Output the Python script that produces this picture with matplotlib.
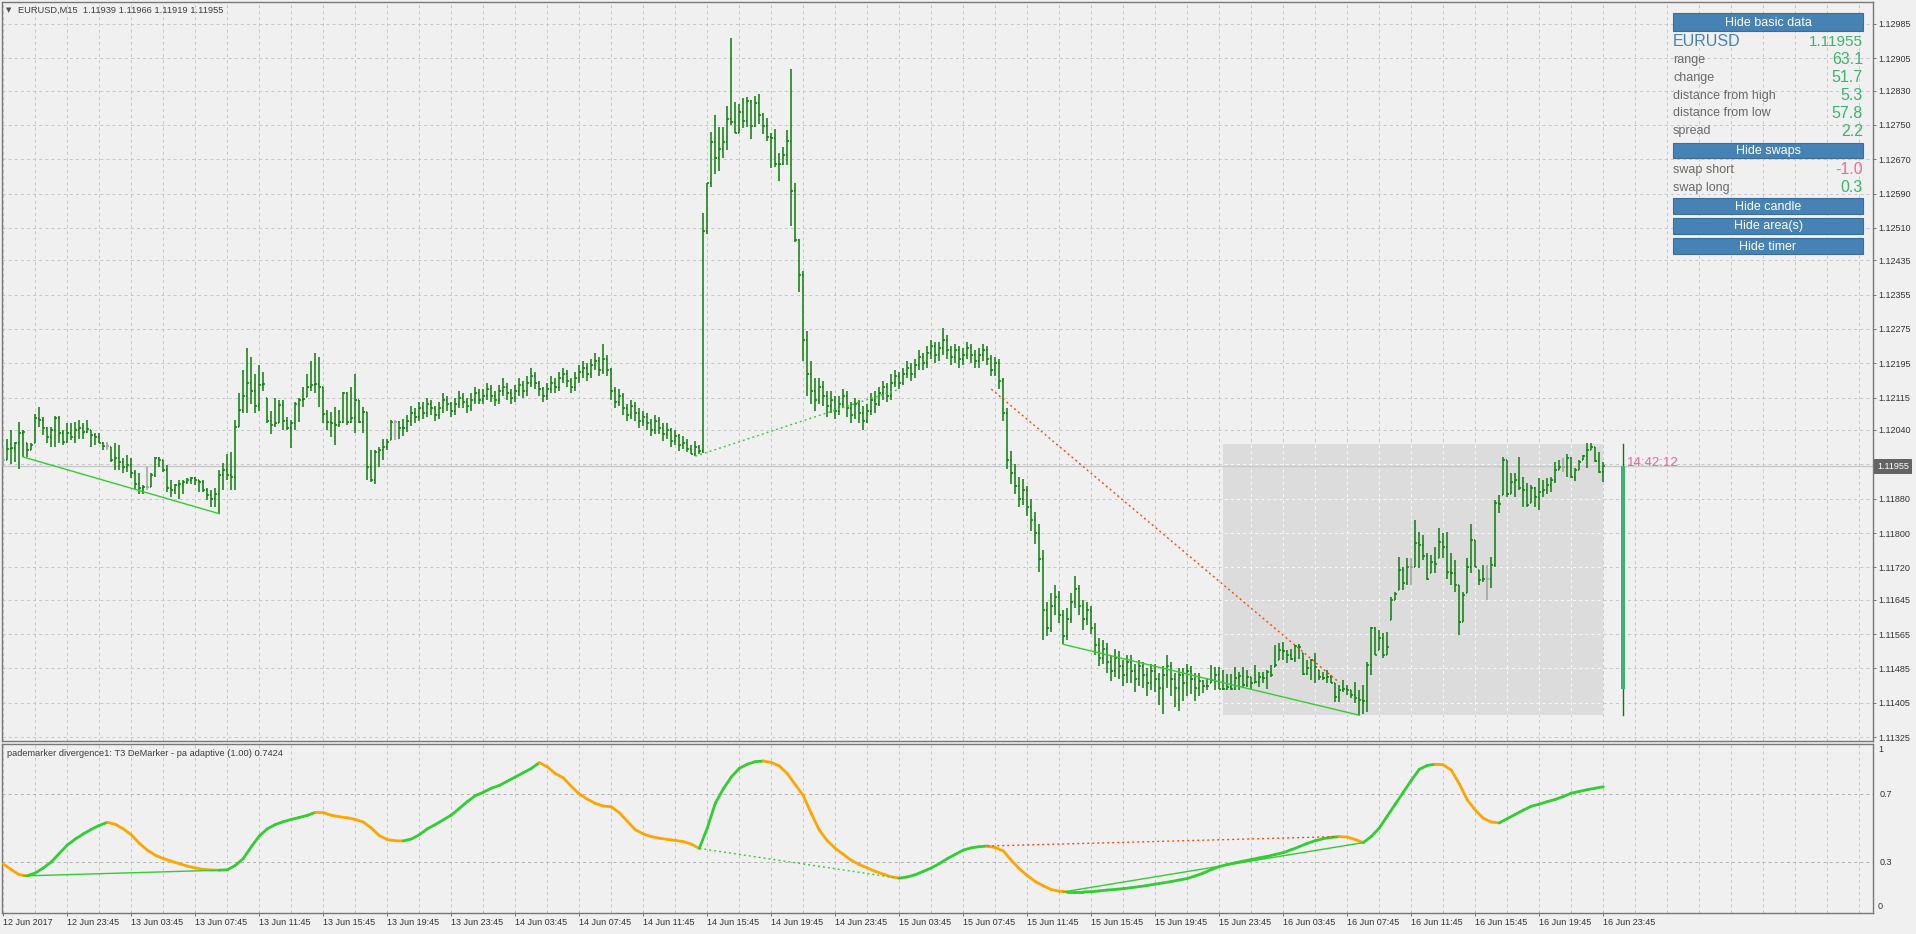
import numpy as np
import matplotlib
matplotlib.use("Agg")
import matplotlib.pyplot as plt
from matplotlib.collections import LineCollection
from matplotlib.patches import Rectangle
import matplotlib.transforms as mtransforms

plt.rcParams['font.family'] = ['Liberation Sans', 'DejaVu Sans']
plt.rcParams['lines.scale_dashes'] = False

W, H = 1916, 934
BASE = 1.11   # bar values are pips above 1.1100

# EURUSD M15, one value per bar (bar 0 = 12 Jun 19:45, bar 400 = 16 Jun 23:45)
close = [
    97.1, 99.5, 99.8, 100.9, 103.2, 103.6, 99.3, 100.5, 106.7, 106.3,
    104.4, 102.4, 104, 106.7, 103.2, 101.2, 103.2, 102.4, 104, 104.4,
    103.6, 104.2, 102.8, 102.4, 100.9, 100.2, 100.2, 97, 97.4, 96.6,
    95.4, 95.8, 93.9, 91.5, 90.4, 90.8, 90.8, 93.5, 97.4, 97,
    94.6, 90.4, 90, 91.2, 91.5, 91.9, 92.3, 92.7, 92.3, 91.9,
    90, 88.8, 88, 89.2, 93.5, 94.6, 93.5, 93.1, 104.7, 108.6,
    112, 115, 113, 109.5, 114.5, 114.8, 106, 105.1, 105.5, 109.8,
    106, 104.4, 105.5, 110, 111, 111.3, 114, 114.5, 114.8, 114,
    107.8, 105.9, 105.5, 105.1, 105.9, 112.5, 105.9, 106.7, 111, 105.9,
    108.2, 95.4, 92.3, 98.9, 99.3, 100.1, 101.2, 105.9, 105.9, 104.4,
    104.5, 106, 108, 107, 109, 108, 110, 109, 107.5, 109,
    111, 110, 108.5, 110, 111.5, 110.5, 109.5, 111, 112.5, 111,
    112, 113.5, 112, 111, 113, 114, 112.5, 111.5, 113, 114.5,
    113, 115, 116.5, 115, 113.5, 112, 113.5, 115, 114, 116,
    117, 115.5, 114, 116, 117.5, 118.5, 117, 119, 120, 118,
    120.5, 118, 113, 110.5, 112, 109, 107.5, 109.5, 108, 106,
    107, 105.5, 104, 106, 104.5, 103, 104, 101.5, 102.5, 100.5,
    101, 99.5, 98.5, 100, 99, 150.3, 161.4, 170.9, 167.2, 169.5,
    170.9, 176.4, 175.7, 173.2, 178.1, 175.9, 180.6, 174.7, 180, 177.4,
    174.7, 172.2, 171.9, 165.8, 166, 168, 171.3, 159.7, 148.3, 140,
    125, 117, 113, 111, 114, 112, 109.5, 111, 108.5, 110,
    112, 109, 107.5, 110, 108, 106, 108.5, 111, 110, 112.5,
    114, 112, 115, 116.5, 115, 117, 118.5, 117, 119, 121,
    119.5, 122, 123.5, 121.5, 123, 125, 122.5, 121, 122.5, 120.5,
    121.5, 123, 121.5, 120, 121.5, 122.5, 120.5, 118, 119.5, 115.5,
    108, 97, 94, 91, 88, 90, 86, 83, 80, 74,
    62, 58, 63, 65, 61, 56, 60, 64, 67, 63,
    60, 62, 58, 54, 51, 53, 50, 48, 51, 49,
    47, 50, 48, 46, 49, 47, 45, 48, 46, 44,
    47, 49, 46, 44, 47, 45, 48, 46, 44, 45.5,
    44.4, 44.5, 45.8, 46.9, 43.8, 43.6, 44.1, 43.8, 46.2, 46.7,
    44.6, 46.5, 45.2, 45.4, 46.5, 46.2, 47.7, 47, 49.3, 52.8,
    52.6, 51.6, 50.8, 53.7, 53.5, 47.2, 48.5, 50.4, 48.9, 46.5,
    46.2, 46.5, 45.2, 41.9, 43.5, 43.6, 43.5, 42.3, 41.5, 41.1,
    40.8, 49.3, 57.8, 51.6, 55.5, 51.6, 53.5, 64.4, 65.9, 71.4,
    68.3, 72.2, 72.2, 77.6, 77.2, 74.6, 69.4, 73.3, 72.9, 78,
    76.8, 71, 70.6, 67.9, 59.4, 65.6, 72.2, 78.4, 72.2, 69.1,
    69.2, 69.2, 72.5, 86.9, 86.7, 97, 89.2, 91.9, 92.3, 90.4,
    90, 86.5, 90.4, 88.5, 89.6, 90, 91.2, 92.3, 94.7, 95.4,
    95.4, 97.4, 93.1, 94.7, 96.6, 97.9, 99.3, 100.1, 96.8, 94.3,
    95.5,
]
high = [
    99.7, 102, 104, 101.2, 105.9, 104, 100.9, 100.9, 107.8, 109.4,
    107, 104.7, 104.7, 107.2, 107.2, 104, 105.5, 105.5, 105.9, 106.3,
    105.5, 106.3, 104, 103.2, 103.2, 101.2, 101.2, 100.1, 100.9, 100.5,
    97.4, 98.1, 97.4, 94.6, 93.9, 91.2, 95.4, 93.9, 97.8, 97.8,
    97, 95.8, 92.3, 91.5, 92.3, 92.3, 92.7, 93.1, 93.1, 92.3,
    92.3, 90.4, 90, 90.4, 94.6, 96.2, 98.5, 98.9, 106.3, 112.5,
    118, 123, 121, 117, 119, 117.5, 111.5, 108.5, 111.5, 111,
    111, 107, 106.3, 110.5, 111.5, 114, 117, 120, 122, 121,
    114, 108.6, 108.2, 109.4, 108.6, 112.9, 112.9, 114, 117, 111,
    109.4, 108.2, 99.3, 99.3, 100.1, 102, 102, 106.3, 106.2, 106,
    106.5, 107.5, 109.5, 109, 110.5, 110.5, 111.5, 111, 109.5, 110.5,
    112.5, 112, 110.5, 111.5, 113, 112.5, 111.5, 112.5, 114, 113.5,
    113.5, 115, 114.5, 113, 114.5, 116, 115, 113.5, 114.5, 116,
    115.5, 116.5, 118.5, 117.5, 115.5, 114, 115, 116.5, 116, 117.5,
    118.5, 118, 116, 117.5, 119, 120, 119.5, 120.5, 122, 121,
    124, 121.5, 118.5, 114, 113.5, 112.5, 110, 111, 110.5, 109,
    108.5, 108, 106.5, 107.5, 107, 105.5, 105.5, 104.5, 104, 103,
    102.5, 102, 100.5, 101.5, 100.5, 154.5, 161.5, 173.4, 177.3, 174.6,
    174.6, 179.4, 195.3, 180.4, 179.8, 181.2, 181.6, 180.8, 181.7, 182.2,
    177.7, 176.7, 173.2, 174, 168.4, 169.9, 173.8, 187.9, 161.4, 148.5,
    141, 127, 120, 116, 116, 115.5, 113, 113, 112, 112,
    113.5, 113, 110.5, 111.5, 111, 109.5, 110, 112.5, 113, 114,
    115.5, 115, 117, 118, 117.5, 118.5, 120, 119.5, 120.5, 122.5,
    122, 123.5, 125, 124.5, 124.5, 127.7, 126, 123.5, 124, 123.5,
    123, 124.5, 124, 122.5, 123, 124, 123.5, 121.5, 121, 120.5,
    116, 109, 99, 96, 93, 92.5, 91, 88, 85, 82,
    76, 64, 66, 68, 66.5, 62, 62.5, 66, 70, 68,
    64.5, 64, 63, 59, 55.5, 55, 54.5, 51.5, 53, 52.5,
    50.5, 51.5, 51.5, 49.5, 50.5, 50, 48.5, 49.5, 49.5, 47.5,
    49, 51.5, 50, 47.5, 48.5, 48.5, 49.5, 49, 47.5, 47.5,
    45.8, 46.2, 49.4, 48.9, 48.9, 48.2, 47.3, 47.3, 48.9, 47.7,
    48.9, 48.1, 46.5, 49.3, 47.7, 47.7, 48.1, 49.3, 53.9, 54.3,
    54.7, 52.8, 53.1, 53.9, 54.1, 52, 50.4, 50.8, 52, 48.1,
    47.7, 48.1, 46.9, 45, 44.6, 45.8, 44.6, 43.5, 45.4, 43.5,
    44.6, 50.1, 58.2, 58.2, 57.4, 56.7, 57, 65.2, 66.3, 74.5,
    72.2, 74.1, 74.1, 83, 80.3, 79.5, 75.3, 74.9, 76.8, 81.1,
    79.9, 80.3, 75.3, 73.7, 67.9, 66.3, 74.1, 82.2, 78.4, 71.4,
    72.6, 72.6, 74.5, 87.7, 88.8, 97.8, 97, 93.9, 93.9, 97.8,
    93.1, 91.6, 91.2, 90.8, 92.7, 92.3, 92.7, 93.1, 96.6, 97,
    97.4, 98.5, 97.8, 95.1, 97, 98.2, 100.9, 100.9, 100.1, 98.9,
    96.6,
]
low = [
    95.4, 97, 96, 96.6, 95, 97.7, 97.7, 99.3, 100.9, 104.7,
    102.8, 100.9, 100.1, 100.1, 100.9, 100.5, 100.9, 101.6, 100.9, 102,
    102, 103.2, 100.1, 100.5, 100.9, 99.3, 99.3, 96.6, 94.6, 94.6,
    93.9, 94.2, 92.7, 90, 89.2, 89.2, 90, 90.8, 93.1, 95.4,
    94.2, 89.6, 88.4, 89.2, 88, 89.2, 91.5, 91.5, 91.2, 89.6,
    89.6, 87.6, 86, 86, 84.5, 90, 92.3, 90, 90, 104.7,
    108, 108, 110, 108, 108.5, 113, 105.5, 103, 104.7, 105.5,
    104, 104, 99.7, 104, 105.9, 109.4, 111.7, 113, 112.5, 109.4,
    105.5, 104, 102.4, 100.5, 104.7, 105.5, 105.1, 105.5, 103.2, 105.5,
    103.2, 92.3, 91.9, 91.5, 95.4, 97, 99.3, 101.6, 101.6, 102,
    102.5, 103.5, 105, 105.5, 106, 106.5, 107, 107.5, 106, 106.5,
    108, 108.5, 107, 107.5, 109, 109, 108, 108.5, 110, 110,
    110, 111, 110.5, 109.5, 110, 112, 111, 110, 110.5, 112,
    111.5, 112, 114, 113.5, 112, 110.5, 111, 112.5, 112.5, 113,
    115, 114, 112.5, 113, 115, 116, 115.5, 116, 118, 116.5,
    117, 116.5, 111, 109, 109.5, 107.5, 106, 106.5, 106, 104.5,
    105, 104, 102.5, 103, 103, 101.5, 102, 100, 100.5, 99,
    99.5, 98.8, 98.3, 97.9, 98.3, 98.6, 149.7, 160.6, 163.5, 164.3,
    167.2, 169.1, 175, 173, 173, 174.2, 174.6, 171.6, 174.4, 175.3,
    172.8, 171.3, 164.9, 165.3, 162, 165.6, 165.6, 151.4, 147.8, 136,
    120, 112, 110, 108.5, 110, 109.5, 107, 108, 106.5, 107.5,
    109, 107, 105.5, 106.5, 105.5, 104, 105.5, 107.5, 108, 109.5,
    111, 110.5, 111, 114, 113.5, 114.5, 116, 115.5, 116, 118,
    118, 118.5, 120.5, 119.5, 120, 121.5, 120.5, 119, 119.5, 118.5,
    119, 120.5, 119.5, 118.5, 118.5, 120, 119, 116.5, 116.5, 113.5,
    106, 95, 91.5, 89, 86, 86.5, 84, 80.5, 77.5, 71,
    55, 56, 57, 61, 59, 54.1, 55, 59, 62.5, 61,
    57.5, 58.5, 56.5, 51.5, 49, 49.5, 47.5, 45.5, 46.5, 46,
    44.5, 45, 45, 43, 44.5, 44, 42, 43.5, 43, 40,
    38, 44, 42, 39.5, 38.5, 41, 42, 42.5, 41, 42,
    42.8, 43.5, 45.2, 43.5, 43.6, 43.5, 43.5, 43.5, 43.5, 43.5,
    44.2, 44.2, 43.8, 45, 44.2, 45, 43.8, 46.6, 48.9, 50.4,
    50.4, 49.7, 50.4, 50, 50.6, 46.9, 46.9, 45.8, 45, 45.8,
    45.8, 45, 45, 40.7, 40.7, 43.1, 42.3, 41.5, 40.4, 37.6,
    38, 38.4, 46.9, 51.6, 52.8, 50.9, 51.6, 59.7, 64.4, 66.7,
    66.7, 67.9, 67.9, 72.2, 71.8, 73.7, 69, 70.6, 70.6, 74.1,
    74.1, 69.4, 67.9, 66.3, 56.3, 59.4, 66, 70.6, 72.2, 67.9,
    68.7, 64.4, 67.1, 72.2, 84.6, 88.8, 88.5, 89.2, 88.5, 90,
    86.1, 86.1, 86.9, 86.1, 85.4, 88.5, 89.2, 89.6, 91.6, 94.7,
    94.3, 93.1, 92.7, 92, 94.7, 97, 95.1, 99.3, 96.6, 93.9,
    91.9,
]

# T3 DeMarker, read every 2nd bar (bar 0, 2, 4, ... 400)
DEM_STEP = 2
demarker = [
    0.288, 0.255, 0.225, 0.219, 0.235, 0.265, 0.30, 0.35, 0.40, 0.435,
    0.465, 0.492, 0.515, 0.533, 0.522, 0.495, 0.46, 0.41, 0.37, 0.34,
    0.32, 0.305, 0.29, 0.276, 0.265, 0.257, 0.253, 0.252, 0.254, 0.28,
    0.32, 0.39, 0.453, 0.495, 0.52, 0.537, 0.55, 0.562, 0.574, 0.592,
    0.59, 0.575, 0.566, 0.56, 0.55, 0.535, 0.50, 0.455, 0.432, 0.425,
    0.424, 0.435, 0.46, 0.495, 0.52, 0.548, 0.576, 0.615, 0.655, 0.69,
    0.71, 0.734, 0.75, 0.775, 0.80, 0.825, 0.85, 0.884, 0.86, 0.82,
    0.795, 0.745, 0.70, 0.67, 0.645, 0.629, 0.625, 0.59, 0.54, 0.49,
    0.465, 0.449, 0.44, 0.433, 0.427, 0.42, 0.405, 0.38, 0.50, 0.645,
    0.73, 0.80, 0.851, 0.875, 0.89, 0.894, 0.885, 0.865, 0.82, 0.755,
    0.69, 0.585, 0.488, 0.425, 0.38, 0.345, 0.31, 0.285, 0.265, 0.245,
    0.228, 0.213, 0.205, 0.212, 0.225, 0.245, 0.265, 0.29, 0.32, 0.345,
    0.37, 0.383, 0.39, 0.394, 0.385, 0.365, 0.31, 0.26, 0.22, 0.185,
    0.16, 0.138, 0.128, 0.124, 0.124, 0.124, 0.125, 0.13, 0.135, 0.139,
    0.143, 0.149, 0.155, 0.162, 0.17, 0.177, 0.185, 0.194, 0.203, 0.218,
    0.235, 0.255, 0.273, 0.285, 0.295, 0.305, 0.315, 0.324, 0.333, 0.344,
    0.355, 0.372, 0.39, 0.41, 0.425, 0.437, 0.445, 0.449, 0.447, 0.432,
    0.414, 0.45, 0.50, 0.57, 0.64, 0.71, 0.78, 0.845, 0.868, 0.875,
    0.872, 0.84, 0.76, 0.665, 0.605, 0.557, 0.535, 0.53, 0.555, 0.58,
    0.605, 0.628, 0.64, 0.655, 0.668, 0.685, 0.705, 0.715, 0.725, 0.734,
    0.7424,
]

# divergence lines: (bar1, value1, bar2, value2, colour, dotted)
main_div = [
    (5, 97.7, 54, 84.5, '#32CD32', False),
    (173, 97.9, 224, 113.5, '#32CD32', True),
    (247, 113.5, 334, 45.2, '#FF4500', True),
    (265, 54.1, 339, 37.6, '#32CD32', False),
]
sub_div = [
    (5, 0.218, 56, 0.253, '#32CD32', False),
    (174, 0.38, 224, 0.204, '#32CD32', True),
    (246, 0.394, 333, 0.449, '#FF4500', True),
    (265, 0.124, 340, 0.414, '#32CD32', False),
]

price_ticks = [1.12985, 1.12905, 1.12830, 1.12750, 1.12670, 1.12590, 1.12510,
               1.12435, 1.12355, 1.12275, 1.12195, 1.12115, 1.12040, 1.11960,
               1.11880, 1.11800, 1.11720, 1.11645, 1.11565, 1.11485, 1.11405,
               1.11325]
time_labels = ["12 Jun 2017", "12 Jun 23:45", "13 Jun 03:45", "13 Jun 07:45",
               "13 Jun 11:45", "13 Jun 15:45", "13 Jun 19:45", "13 Jun 23:45",
               "14 Jun 03:45", "14 Jun 07:45", "14 Jun 11:45", "14 Jun 15:45",
               "14 Jun 19:45", "14 Jun 23:45", "15 Jun 03:45", "15 Jun 07:45",
               "15 Jun 11:45", "15 Jun 15:45", "15 Jun 19:45", "15 Jun 23:45",
               "16 Jun 03:45", "16 Jun 07:45", "16 Jun 11:45", "16 Jun 15:45",
               "16 Jun 19:45", "16 Jun 23:45"]

last_price = 1.11955
# day candle / day area (16 Jun), pips
day_open, day_high, day_low, day_close = 43.8, 100.8, 37.7, 95.5
day_first_bar, day_last_bar = 305, 400
timer_text = "14:42:12"

info_labels = ["range", "change", "distance from high", "distance from low", "spread"]
info_values = ["63.1", "51.7", "5.3", "57.8", "2.2"]
swap_labels = ["swap short", "swap long"]
swap_values = ["-1.0", "0.3"]
button_labels = ["Hide basic data", "Hide swaps", "Hide candle", "Hide area(s)", "Hide timer"]

BG = '#F0F0F0'
GRID = '#C8C8C8'
FRAME = '#787878'
BAR = '#0B7D0B'
TXT = '#333333'
PX = 0.72  # one pixel in points


def fx(x):
    return x / W


def fy(y):
    return 1 - y / H


def pr(p):
    return BASE + np.asarray(p, dtype=float) / 1e4


fig = plt.figure(figsize=(W / 100, H / 100), dpi=100, facecolor=BG)
ax = fig.add_axes([fx(2), fy(741), 1871 / W, 739 / H])
sub = fig.add_axes([fx(2), fy(913), 1871 / W, 169 / H])

xl = ((2 - 3.3) / 4, (1873 - 3.3) / 4)
yl = (BASE + 31.6 / 1e4, BASE + 203.6 / 1e4)
for a in (ax, sub):
    a.set_facecolor(BG)
    a.set_xlim(*xl)
    for s in a.spines.values():
        s.set_color(FRAME)
        s.set_linewidth(1.0)
ax.set_ylim(*yl)
sub.set_ylim(0, 0.994)

dash = (0, (2.2, 2.2))
vgrid = np.arange(0, 468, 8)
ax.vlines(vgrid, *yl, colors=GRID, linestyles=dash, linewidth=PX, zorder=1)
ax.hlines(price_ticks, *xl, colors=GRID, linestyles=dash, linewidth=PX, zorder=1)
sub.vlines(vgrid, 0, 1, colors=GRID, linestyles=dash, linewidth=PX, zorder=1)
sub.hlines([0.3, 0.7], *xl, colors='#B4B4B4', linestyles=dash, linewidth=PX, zorder=1)

# day area
area = Rectangle((day_first_bar - 0.1, pr(day_low)), day_last_bar - day_first_bar + 0.1,
                 pr(day_high) - pr(day_low) + 0.000003, facecolor='#DCDCDC',
                 edgecolor='none', zorder=1.5)
ax.add_patch(area)
inner_v = ax.vlines(vgrid, *yl, colors='#F6F6F6', linestyles=dash, linewidth=PX, zorder=1.6)
inner_h = ax.hlines(price_ticks, *xl, colors='#F6F6F6', linestyles=dash, linewidth=PX, zorder=1.6)
inner_v.set_clip_path(area)
inner_h.set_clip_path(area)

ax.axhline(last_price, color='#C8C8C8', linewidth=1.0, zorder=2)

# OHLC bars
c = pr(close)
h = pr(high)
l = pr(low)
o = np.concatenate([[c[0]], c[:-1]])
o = np.clip(o, l, h)
segs, cols = [], []
for i in range(len(c)):
    col = '#A0A0A0' if abs(o[i] - c[i]) < 5e-6 else BAR
    segs += [[(i, l[i]), (i, h[i])], [(i - 0.38, o[i]), (i, o[i])], [(i, c[i]), (i + 0.38, c[i])]]
    cols += [col] * 3
ax.add_collection(LineCollection(segs, colors=cols, linewidths=1.1, zorder=3))

# divergence lines on price
for b1, v1, b2, v2, col, dotted in main_div:
    ax.plot([b1, b2], [pr(v1), pr(v2)], color=col, linewidth=1.0,
            linestyle=(0, (1.4, 2.2)) if dotted else '-', zorder=4)

# day candle and timer
dc = 405
ax.plot([dc, dc], [pr(day_low), pr(day_high)], color=BAR, linewidth=1.0, zorder=3)
ax.add_patch(Rectangle((dc - 0.45, pr(day_open)), 0.9, pr(day_close) - pr(day_open),
                       facecolor='#3CB371', edgecolor='none', zorder=3.5))
ax.text(dc + 0.9, last_price + 0.00008, timer_text, color='#E8679A', fontsize=9.5,
        va='center', ha='left', zorder=5)

# price axis
ax.yaxis.tick_right()
ax.set_yticks(price_ticks)
ax.set_yticklabels(['' if abs(t - 1.1196) < 1e-9 else f'{t:.5f}' for t in price_ticks])
ax.tick_params(axis='y', direction='out', length=3 * PX, width=PX, color=FRAME,
               labelsize=6.5, labelcolor=TXT, pad=2)
ax.tick_params(axis='x', bottom=False, labelbottom=False)
tr = mtransforms.blended_transform_factory(ax.transAxes, ax.transData)
ax.text(1 + 4 / 1871, last_price, f'{last_price:.5f}', transform=tr, color='white',
        fontsize=6.5, ha='left', va='center', zorder=6,
        bbox=dict(boxstyle='square,pad=0.3', facecolor='#646464', edgecolor='none'))

# indicator
xs = np.arange(len(demarker)) * DEM_STEP
dv = np.array(demarker)
dsegs = [[(xs[i], dv[i]), (xs[i + 1], dv[i + 1])] for i in range(len(dv) - 1)]
dcols = ['#32CD32' if dv[i + 1] >= dv[i] else '#FFA500' for i in range(len(dv) - 1)]
sub.add_collection(LineCollection(dsegs, colors=dcols, linewidths=2.0, capstyle='round', zorder=3))
for b1, v1, b2, v2, col, dotted in sub_div:
    sub.plot([b1, b2], [v1, v2], color=col, linewidth=1.0,
             linestyle=(0, (1.4, 2.2)) if dotted else '-', zorder=4)

sub.yaxis.tick_right()
sub.set_yticks([0.3, 0.7])
sub.set_yticklabels(['0.3', '0.7'])
sub.tick_params(axis='y', direction='out', length=0, labelsize=6.5, labelcolor=TXT, pad=5)
trs = mtransforms.blended_transform_factory(sub.transAxes, sub.transData)
sub.text(1 + 5 / 1871, 0.99, '1', transform=trs, fontsize=6.5, color=TXT, va='top')
sub.text(1 + 5 / 1871, 0.01, '0', transform=trs, fontsize=6.5, color=TXT, va='bottom')
sub.set_xticks(np.arange(0, 16 * len(time_labels), 16))
sub.set_xticklabels(time_labels)
sub.tick_params(axis='x', direction='out', length=3 * PX, width=PX, color=FRAME,
                labelsize=6.5, labelcolor=TXT, pad=1.5)
for lab in sub.get_xticklabels():
    lab.set_ha('left')

# titles
fig.text(fx(6), fy(10.5), '\u25BC', fontsize=5, color='#505050', va='center',
         family='DejaVu Sans')
fig.text(fx(18), fy(10.5), 'EURUSD,M15  1.11939 1.11966 1.11919 1.11955', fontsize=6.7,
         color='#3C3C3C', va='center')
fig.text(fx(7), fy(753), 'pademarker divergence1: T3 DeMarker - pa adaptive (1.00) 0.7424',
         fontsize=6.7, color='#3C3C3C', va='center')

# info panel
PL, PR = 1673, 1863
button_tops = [13, 143, 198, 218, 238]
button_bottoms = [31, 158, 214, 234, 254]
for lab, t, b in zip(button_labels, button_tops, button_bottoms):
    fig.add_artist(Rectangle((fx(PL), fy(b)), (PR - PL) / W, (b - t) / H,
                             transform=fig.transFigure, facecolor='#4682B4',
                             edgecolor='#3A6E9C', linewidth=0.8))
    fig.text(fx((PL + PR) / 2), fy((t + b) / 2 + 0.5), lab, color='white', fontsize=9,
             ha='center', va='center')

fig.text(fx(PL), fy(42), 'EURUSD', color='#4682B4', fontsize=11.5, va='center')
fig.text(fx(PR), fy(42), f'{last_price:.5f}', color='#3DB46E', fontsize=11, va='center', ha='right')
row_y = [60, 78, 96, 113, 131]
for lab, val, y in zip(info_labels, info_values, row_y):
    fig.text(fx(PL), fy(y), lab, color='#6A6A6A', fontsize=9, va='center')
    fig.text(fx(PR), fy(y), val, color='#3DB46E', fontsize=11.5, va='center', ha='right')
swap_y = [170, 188]
swap_cols = ['#E8709A', '#3DB46E']
for lab, val, y, col in zip(swap_labels, swap_values, swap_y, swap_cols):
    fig.text(fx(PL), fy(y), lab, color='#6A6A6A', fontsize=9, va='center')
    fig.text(fx(PR), fy(y), val, color=col, fontsize=11.5, va='center', ha='right')

fig.savefig('out.png', dpi=100, facecolor=BG)
